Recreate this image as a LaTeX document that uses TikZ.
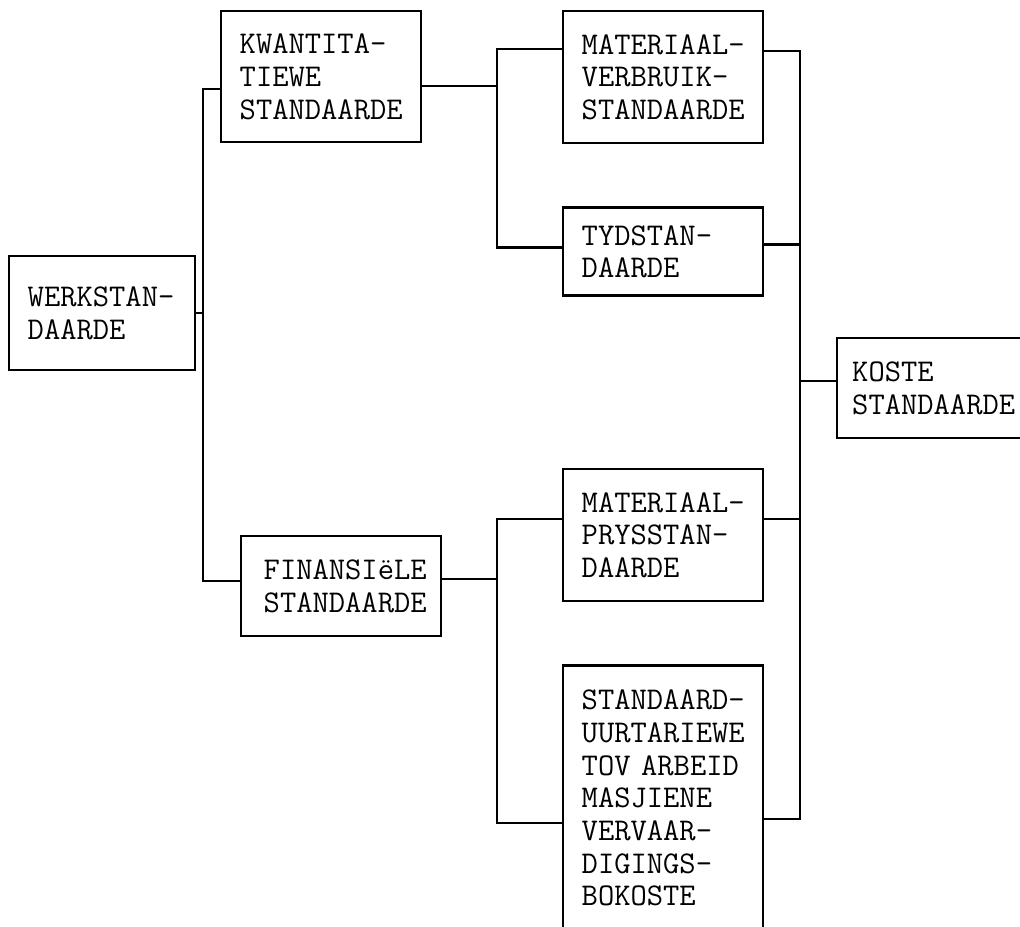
\documentclass[tikz,border=0pt]{standalone}
\usepackage{fontspec}
\usepackage{tikz}
\usetikzlibrary{positioning}

\begin{document}
\begin{tikzpicture}[
        node distance=1.24cm,
        box/.style={draw, line width=1.4pt, align=left, anchor=north west,
                    inner xsep=0.37cm, inner ysep=0pt, text width=3.26cm,
                    font=\fontsize{18pt}{18.6pt}\selectfont\ttfamily},
        link/.style={line width=1.4pt}
      ]
        \useasboundingbox (0,0) rectangle (20.4,-18.52);
        % left column
        \node[box, text width=2.98cm, minimum height=2.28cm] (werk) at (0.16,-5.1) {WERKSTAN-\\DAARDE};
        \node[box, minimum height=2.62cm] (kwant) at (4.4,-0.2) {KWANTITA-\\TIEWE\\STANDAARDE};
        \node[box, inner xsep=0.45cm, text width=3.1cm, minimum height=2.0cm] (fin) at (4.8,-10.7) {FINANSIëLE\\STANDAARDE};
        % right column
        \node[box, minimum height=2.64cm] (matverb) at (11.24,-0.2) {MATERIAAL-\\VERBRUIK-\\STANDAARDE};
        \node[box, below=of matverb.south west, anchor=north west, minimum height=1.76cm] (tyd) {TYDSTAN-\\DAARDE};
        \node[box, below=3.42cm of tyd.south west, anchor=north west, minimum height=2.64cm] (matprys) {MATERIAAL-\\PRYSSTAN-\\DAARDE};
        \node[box, below=1.24cm of matprys.south west, anchor=north west, minimum height=5.3cm] (stduur)
              {STANDAARD-\\UURTARIEWE\\TOV ARBEID\\MASJIENE\\VERVAAR-\\DIGINGS-\\BOKOSTE};
        \node[box, inner xsep=0.3cm, text width=3.3cm, minimum height=2.0cm] (koste) at (16.72,-6.74) {KOSTE\\STANDAARDE};
        % buses
        \coordinate (b1) at (4.06,0);
        \coordinate (b2) at (9.94,0);
        \coordinate (b3) at (16.0,0);
        \coordinate (kwant-l) at ([yshift=-0.25cm]kwant.west);
        \coordinate (fin-l) at ([yshift=0.1cm]fin.west);
        \coordinate (kwant-r) at ([yshift=-0.19cm]kwant.east);
        \coordinate (mv-l) at ([yshift=0.56cm]matverb.west);
        \coordinate (ty-l) at ([yshift=0.08cm]tyd.west);
        \coordinate (fin-r) at ([yshift=0.14cm]fin.east);
        \coordinate (mp-l) at ([yshift=0.32cm]matprys.west);
        \coordinate (sd-l) at ([yshift=-0.5cm]stduur.west);
        \coordinate (mv-r) at ([yshift=0.52cm]matverb.east);
        \coordinate (ty-r) at ([yshift=0.14cm]tyd.east);
        \coordinate (mp-r) at ([yshift=0.32cm]matprys.east);
        \coordinate (sd-r) at ([yshift=-0.42cm]stduur.east);
        \coordinate (ko-l) at ([yshift=0.14cm]koste.west);
        \draw[link] (werk.east) -- (werk.east -| b1);
        \draw[link] (kwant-l) -| (fin-l -| b1) -- (fin-l);
        \draw[link] (kwant-r) -- (kwant-r -| b2);
        \draw[link] (mv-l) -| (ty-l -| b2) -- (ty-l);
        \draw[link] (fin-r) -- (fin-r -| b2);
        \draw[link] (mp-l) -| (sd-l -| b2) -- (sd-l);
        \draw[link] (mv-r) -| (sd-r -| b3) -- (sd-r);
        \draw[link] (ty-r) -- (ty-r -| b3);
        \draw[link] (mp-r) -- (mp-r -| b3);
        \draw[link] (ko-l) -- (ko-l -| b3);
      \end{tikzpicture}
\end{document}
